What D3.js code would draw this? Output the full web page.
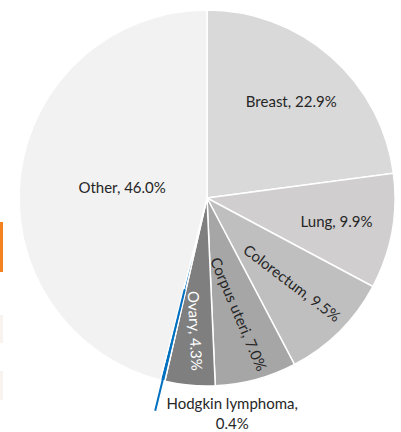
<!DOCTYPE html>
<html>
<head>
<meta charset="utf-8">
<script src="https://cdn.jsdelivr.net/npm/d3@7"></script>
<style>
  html, body { margin: 0; padding: 0; background: #fff; }
  svg text { font-family: Lato, "Liberation Sans", sans-serif; font-size: 15px; fill: #262626; }
</style>
</head>
<body>
<svg id="chart" width="401" height="432"></svg>
<script>
// cancer sites and their share of cases (percent)
var sites = ['Breast', 'Lung', 'Colorectum', 'Corpus uteri', 'Ovary', 'Hodgkin lymphoma', 'Other']
var shares = [22.9, 9.9, 9.5, 7.0, 4.3, 0.4, 46.0]
var colors = ['#d9d9d9', '#d0cece', '#bfbfbf', '#a6a6a6', '#7f7f7f', '#0070c0', '#f2f2f2']

var svg = d3.select('#chart')
var cx = 207
var cy = 198
var radius = 188

// bits of the neighbouring slide that were cropped in
svg.append('rect').attr('x', 0).attr('y', 222).attr('width', 3).attr('height', 50).attr('fill', '#f58220')
svg.append('rect').attr('x', 0).attr('y', 315).attr('width', 3).attr('height', 28).attr('fill', '#f8f3ee')
svg.append('rect').attr('x', 0).attr('y', 371).attr('width', 3).attr('height', 29).attr('fill', '#f8f3ee')

var data = sites.map(function (s, i) { return {site: s, value: shares[i], color: colors[i]} })

var pie = d3.pie()
    .sort(null)
    .value(function (d) { return d.value })

var arcs = pie(data)

var arc = d3.arc()
    .innerRadius(0)
    .outerRadius(radius)

var g = svg.append('g')
    .attr('transform', 'translate(' + cx + ',' + cy + ')')

g.selectAll('path.slice')
    .data(arcs)
    .enter()
    .append('path')
    .classed('slice', true)
    .attr('d', arc)
    .attr('fill', function (d) { return d.data.color })
    .attr('stroke', '#fff')
    .attr('stroke-width', 1.5)

// angle helpers: d3 angles are clockwise from 12 o'clock
function mid (d) { return (d.startAngle + d.endAngle) / 2 }
function pt (a, r) { return [Math.sin(a) * r, -Math.cos(a) * r] }

/*
    --------------------------------------
    Labels inside the slices
*/
var inside = arcs.filter(function (d) { return d.data.value >= 1 })

inside.forEach(function (d) {
  var a = mid(d)
  var i = d.index
  var frac = d.data.value > 40 ? 0.455 : (i === 0 ? 0.68 : (i === 1 ? 0.7 : (i === 4 ? 0.71 : 0.64)))
  var p = pt(a, radius * frac)
  // the three narrow slices carry text running along the radius
  var rot = 0
  if (i >= 2 && i <= 4) rot = a * 180 / Math.PI - 90 - 8
  g.append('text')
      .attr('transform', 'translate(' + p[0] + ',' + p[1] + ') rotate(' + rot + ')')
      .attr('text-anchor', 'middle')
      .attr('dy', '0.35em')
      .style('fill', i === 4 ? '#fff' : null)
      .text(d.data.site + ', ' + d.data.value.toFixed(1) + '%')
})

/*
    --------------------------------------
    Hodgkin lymphoma: leader line and outside label
*/
var small = arcs.filter(function (d) { return d.data.value < 1 })[0]
var a0 = mid(small)
var p1 = pt(a0, radius * 0.5)
var p2 = pt(a0, radius * 1.165)

g.append('line')
    .attr('x1', p1[0]).attr('y1', p1[1])
    .attr('x2', p2[0]).attr('y2', p2[1])
    .attr('stroke', small.data.color)
    .attr('stroke-width', 2)

var lbl = g.append('text')
    .attr('text-anchor', 'middle')
    .attr('transform', 'translate(' + (p2[0] + 77) + ',' + (p2[1] - 7) + ')')

lbl.append('tspan').attr('x', 0).attr('dy', '0.35em').text(small.data.site + ',')
lbl.append('tspan').attr('x', 0).attr('dy', '1.3em').text(small.data.value.toFixed(1) + '%')
</script>
</body>
</html>
